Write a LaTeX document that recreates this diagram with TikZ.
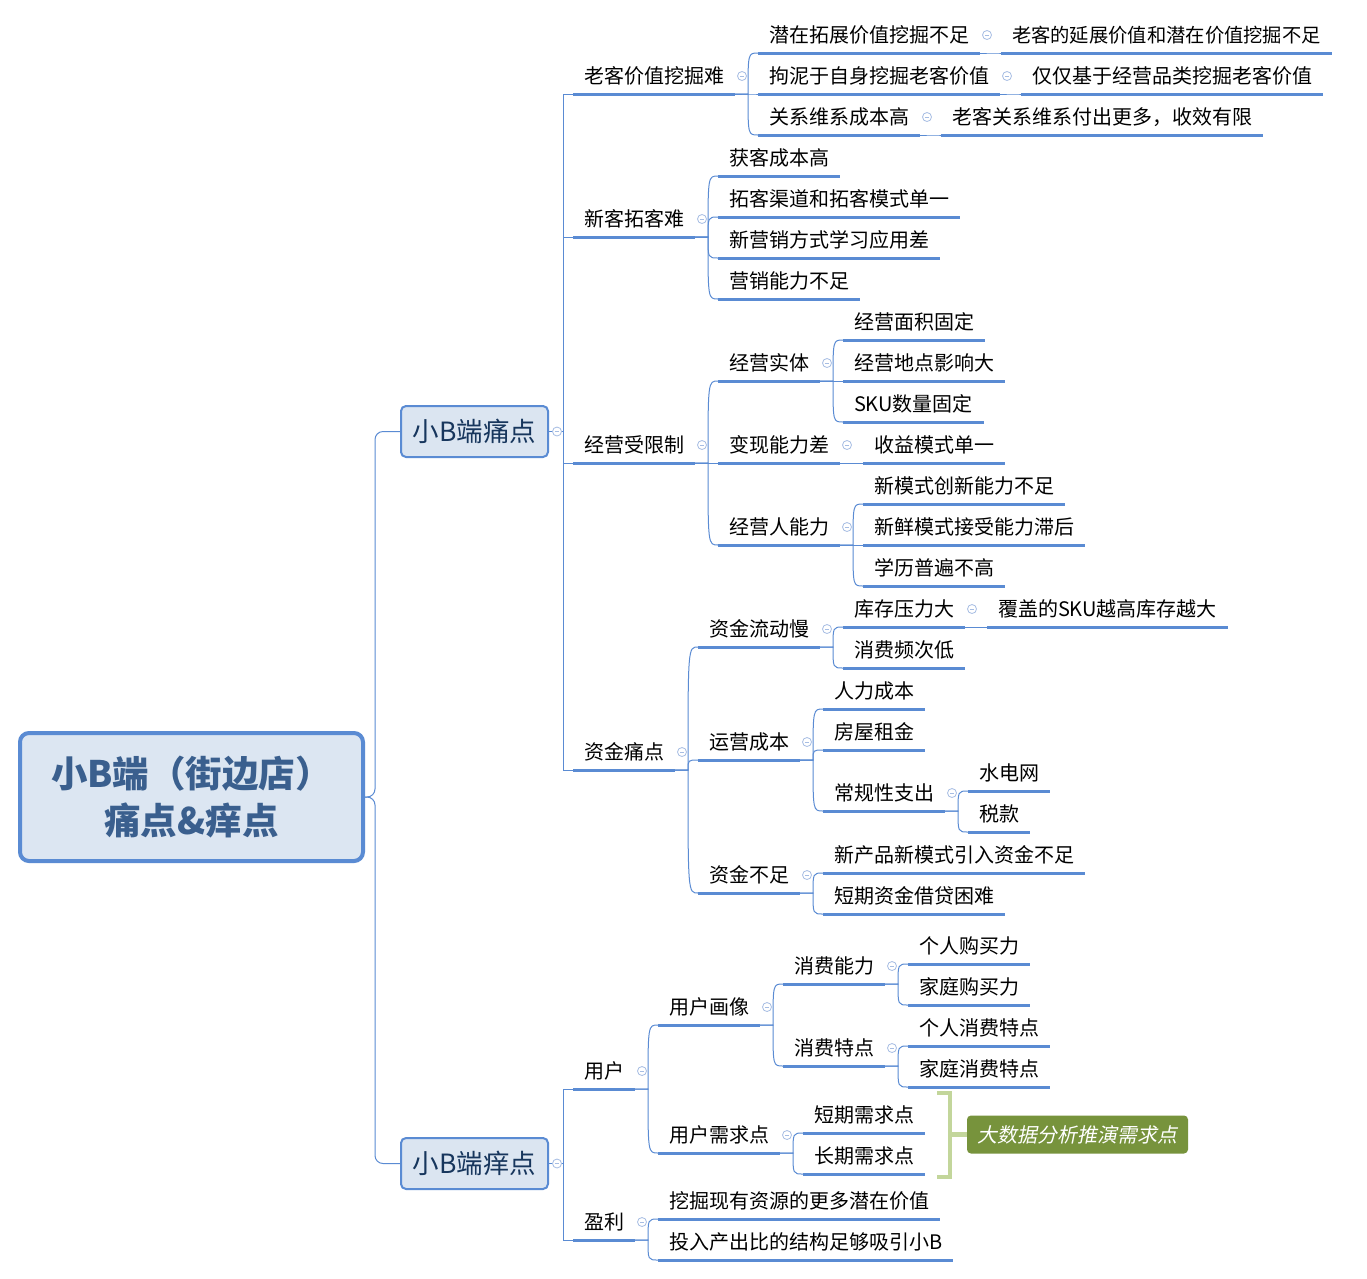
\documentclass[tikz,border=0pt]{standalone}
\usepackage{fontspec}
\setmainfont{Noto Sans CJK SC}
\newfontfamily\slantcjk{Noto Sans CJK SC}[FakeSlant=0.2]
\usetikzlibrary{calc}
\definecolor{lineblue}{HTML}{5A8BD3}
\definecolor{boxfill}{HTML}{DBE5F1}
\definecolor{rootfill}{HTML}{DCE6F2}
\definecolor{roottext}{HTML}{3A5F8E}
\definecolor{navy}{HTML}{17365D}
\definecolor{circ}{HTML}{A6BDE3}
\definecolor{brk}{HTML}{C3D69B}
\definecolor{olive}{HTML}{77933C}
\tikzset{
  conn/.style={draw=lineblue, line width=1pt},
  uline/.style={draw=lineblue, line width=3pt},
  tnode/.style={anchor=south west, inner xsep=11pt, inner ysep=0pt, outer sep=0pt,
    text height=16pt, text depth=10.5pt, font=\fontsize{20}{22}\selectfont, text=black},
  colbtn/.style={circle, draw=circ, fill=white, line width=0.8pt, minimum size=9pt, inner sep=0pt,
    path picture={\draw[circ, line width=0.8pt] ([xshift=-2.2pt]path picture bounding box.center) -- ([xshift=2.2pt]path picture bounding box.center);}},
  l1box/.style={draw=lineblue, line width=2pt, fill=boxfill, rounded corners=5pt,
    minimum width=147pt, minimum height=51pt, inner sep=0pt, font=\fontsize{26.5}{28}\selectfont, text=navy},
  rootbox/.style={draw=lineblue, line width=4pt, fill=rootfill, rounded corners=9pt,
    minimum width=343pt, minimum height=128pt, inner sep=0pt, align=center,
    font=\fontsize{36.5}{47}\selectfont\bfseries, text=roottext},
  gbox/.style={fill=olive, rounded corners=4pt, minimum width=221pt, minimum height=38pt,
    inner sep=0pt, text=white, font=\fontsize{20}{22}\selectfont\slantcjk},
  bracket/.style={draw=brk, line width=4.5pt},
}
% child of a text node: [gap]{name}{parent}{underline y}{text}
\newcommand\kid[5][23]{%
  \path (#3.south east) ++(#1,0) coordinate (#2-x);
  \node[tnode] (#2) at (#2-x |- 0,#4) {#5};
  \draw[uline] (#2.south west) -- (#2.south east);
  \draw[conn] (#3.south east) -- ++(13,0) coordinate (#2-j) .. controls (#2-j |- #2.south west) .. (#2.south west);
}
% child of a level-1 box: {name}{box}{underline y}{text}
\newcommand\lkid[4]{%
  \node[tnode] (#1) at (573,#3) {#4};
  \draw[uline] (#1.south west) -- (#1.south east);
  \draw[conn] (#2.east) -- ++(14,0) |- (#1.south west);
}
\newcommand\btn[1]{\node[colbtn] (#1-btn) at ([xshift=7pt,yshift=18pt]#1.south east) {};}
\begin{document}
\begin{tikzpicture}[x=1pt,y=-1pt]
\useasboundingbox[fill=white] (0,0) rectangle (1367,1278);
\node[rootbox] (root) at (191.5,797) {小B端（街边店）\\痛点\&痒点};
\node[l1box] (pa) at (474.5,431.5) {小B端痛点};
\node[l1box] (pb) at (474.5,1163.5) {小B端痒点};
\draw[conn, rounded corners=8pt] (root.east) -- ++(10,0) |- (pa.west);
\draw[conn, rounded corners=8pt] (root.east) -- ++(10,0) |- (pb.west);

% ---- pain points
\lkid{a1}{pa}{94}{老客价值挖掘难}
\kid{a11}{a1}{53}{潜在拓展价值挖掘不足}
\kid{a12}{a1}{94}{拘泥于自身挖掘老客价值}
\kid{a13}{a1}{135}{关系维系成本高}
\kid[21]{a111}{a11}{53}{\fontsize{19.3}{22}\selectfont 老客的延展价值和潜在价值挖掘不足}
\kid[21]{a121}{a12}{94}{仅仅基于经营品类挖掘老客价值}
\kid[21]{a131}{a13}{135}{老客关系维系付出更多，收效有限}

\lkid{a2}{pa}{237}{新客拓客难}
\kid{a21}{a2}{176}{获客成本高}
\kid{a22}{a2}{217}{拓客渠道和拓客模式单一}
\kid{a23}{a2}{258}{新营销方式学习应用差}
\kid{a24}{a2}{299}{营销能力不足}

\lkid{a3}{pa}{463}{经营受限制}
\kid{a31}{a3}{381}{经营实体}
\kid{a311}{a31}{340}{经营面积固定}
\kid{a312}{a31}{381}{经营地点影响大}
\kid{a313}{a31}{422}{SKU数量固定}
\kid{a32}{a3}{463}{变现能力差}
\kid{a321}{a32}{463}{收益模式单一}
\kid{a33}{a3}{545}{经营人能力}
\kid{a331}{a33}{504}{新模式创新能力不足}
\kid{a332}{a33}{545}{新鲜模式接受能力滞后}
\kid{a333}{a33}{586}{学历普遍不高}

\lkid{a4}{pa}{770}{资金痛点}
\kid{a41}{a4}{647}{资金流动慢}
\kid{a411}{a41}{627}{库存压力大}
\kid[22]{a4111}{a411}{627}{覆盖的SKU越高库存越大}
\kid{a412}{a41}{668}{消费频次低}
\kid{a42}{a4}{760}{运营成本}
\kid{a421}{a42}{709}{人力成本}
\kid{a422}{a42}{750}{房屋租金}
\kid{a423}{a42}{811}{常规性支出}
\kid{a4231}{a423}{791}{水电网}
\kid{a4232}{a423}{832}{税款}
\kid{a43}{a4}{893}{资金不足}
\kid{a431}{a43}{873}{新产品新模式引入资金不足}
\kid{a432}{a43}{914}{短期资金借贷困难}

% ---- itch points
\lkid{b1}{pb}{1089}{用户}
\kid{b11}{b1}{1025}{用户画像}
\kid{b111}{b11}{984}{消费能力}
\kid{b1111}{b111}{964}{个人购买力}
\kid{b1112}{b111}{1005}{家庭购买力}
\kid{b112}{b11}{1066}{消费特点}
\kid{b1121}{b112}{1046}{个人消费特点}
\kid{b1122}{b112}{1087}{家庭消费特点}
\kid{b12}{b1}{1153}{用户需求点}
\kid{b121}{b12}{1133}{短期需求点}
\kid{b122}{b12}{1174}{长期需求点}
\lkid{b2}{pb}{1240}{盈利}
\kid{b21}{b2}{1219}{挖掘现有资源的更多潜在价值}
\kid{b22}{b2}{1260}{投入产出比的结构足够吸引小B}

% ---- summary bracket
\node[gbox] (big) at (1077.5,1134.5) {大数据分析推演需求点};
\coordinate (brtop) at (937,1093);
\coordinate (brbot) at (937,1177);
\coordinate (brmid) at (950,1134.5);
\draw[bracket] (brtop) -- (950,1093) -- (950,1177) -- (brbot);
\draw[bracket] (brmid) -- (big.west);

% ---- collapse buttons
\node[colbtn] (pa-btn) at ([xshift=8pt]pa.east) {};
\node[colbtn] (pb-btn) at ([xshift=8pt]pb.east) {};
\btn{a1}\btn{a11}\btn{a12}\btn{a13}
\btn{a2}
\btn{a3}\btn{a31}\btn{a32}\btn{a33}
\btn{a4}\btn{a41}\btn{a411}\btn{a42}\btn{a423}\btn{a43}
\btn{b1}\btn{b11}\btn{b111}\btn{b112}\btn{b12}\btn{b2}
\end{tikzpicture}
\end{document}
